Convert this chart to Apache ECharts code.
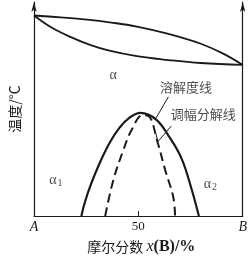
<!DOCTYPE html>
<html><head><meta charset="utf-8">
<script src="https://cdn.jsdelivr.net/npm/echarts@6/dist/echarts.min.js"></script>
<style>html,body{margin:0;padding:0;background:#fff}#c{width:250px;height:260px}</style>
</head><body><div id="c"></div>
<script>
// Composition axis (A = 0, B = 100 mol% B) and temperature (arbitrary 0-100)
const xTickLabels = {0: 'A', 50: '50', 100: 'B'};
const xAxisName = ['摩尔分数 ', 'x', '(B)/%'];
const yAxisName = '温度/°C';

// Upper lens (liquidus / solidus)
const liquidusX = [0, 12.8, 24.2, 37.9, 49.3, 64.4, 79.9, 90.4, 100];
const liquidusY = [93.7, 92.8, 91.9, 90.3, 88.5, 85.1, 80.5, 76.0, 70.6];
const solidusX = [0, 8.2, 17.4, 26.5, 35.6, 49.3, 64.4, 79.9, 100];
const solidusY = [93.7, 88.2, 83.7, 80.1, 77.4, 74.7, 72.9, 71.5, 70.6];

// Miscibility gap: solubility line (solid) and spinodal (dashed)
const solvusX = [22.7, 24.2, 27.3, 31.8, 36.4, 41.0, 45.5, 51.1, 58.4, 64.4, 70.6, 75.2, 79.0];
const solvusY = [0, 5.9, 14.9, 25.5, 34.5, 41.3, 45.8, 48.2, 45.2, 37.6, 27.1, 13.6, 0];
const spinodalX = [34.1, 37.9, 42.5, 47.0, 52.1, 54.8, 59.2, 63.0, 66.7, 67.6];
const spinodalY = [0, 16.4, 30.0, 40.7, 47.1, 46.8, 34.5, 21.0, 9.0, 0];

// Leader lines for the labels
const leader1X = [64.4, 58.4];
const leader1Y = [55.7, 45.7];
const leader2X = [65.8, 59.4, 58.4];
const leader2Y = [42.1, 34.8, 38.5];

// Region / curve labels
const labelTexts = ['α', 'α1', 'α2', '溶解度线', '调幅分解线'];
const labelX = [37.9, 10.5, 84.5, 72.8, 81.1];
const labelY = [65.6, 16.7, 14.9, 60.2, 47.5];

const zip = (xs, ys) => xs.map((x, i) => [x, ys[i]]);
const serif = '"Liberation Serif", "DejaVu Serif", serif';
const cjk = '"Noto Sans CJK SC", sans-serif';
const ink = '#1a1a1a';

const chart = echarts.init(document.getElementById('c'), null, {renderer: 'canvas'});

function labelFormatter(t) {
  if (t === 'α1' || t === 'α2') return '{g|α}{s|' + t.slice(1) + '}';
  if (t === 'α') return '{g|α}';
  return '{c|' + t + '}';
}

chart.setOption({
  animation: false,
  backgroundColor: '#fff',
  grid: {left: 27, right: 4, top: 2, bottom: 37},
  xAxis: {
    type: 'value', min: 0, max: 100, interval: 50,
    splitLine: {show: false},
    axisLine: {lineStyle: {color: ink, width: 1.2}},
    axisTick: {inside: true, length: 5, lineStyle: {color: ink, width: 1}},
    axisLabel: {
      margin: 4,
      formatter: v => (v === 50 ? '{n|' : '{i|') + xTickLabels[v] + '}',
      rich: {
        n: {fontFamily: serif, fontSize: 13, color: ink},
        i: {fontFamily: serif, fontSize: 14, fontStyle: 'italic', color: ink}
      }
    },
    name: '{c|' + xAxisName[0] + '}{i|' + xAxisName[1] + '}{b|' + xAxisName[2] + '}',
    nameLocation: 'middle', nameGap: 21,
    nameTextStyle: {
      padding: [0, 0, 0, 6],
      rich: {
        c: {fontFamily: cjk, fontSize: 14, color: ink},
        i: {fontFamily: serif, fontSize: 16, fontStyle: 'italic', color: ink},
        b: {fontFamily: serif, fontSize: 16, fontWeight: 'bold', color: ink}
      }
    }
  },
  yAxis: [
    {
      type: 'value', min: 0, max: 100,
      splitLine: {show: false}, axisTick: {show: false}, axisLabel: {show: false},
      axisLine: {show: true, symbol: ['none', 'arrow'], symbolSize: [4, 10], lineStyle: {color: ink, width: 1.2}},
      name: yAxisName, nameLocation: 'middle', nameRotate: 90, nameGap: 12,
      nameTextStyle: {fontFamily: cjk, fontSize: 14, color: ink}
    },
    {
      type: 'value', min: 0, max: 100, position: 'right',
      splitLine: {show: false}, axisTick: {show: false}, axisLabel: {show: false},
      axisLine: {show: true, symbol: ['none', 'arrow'], symbolSize: [4, 10], lineStyle: {color: ink, width: 1.2}}
    }
  ],
  series: [
    {type: 'line', data: zip(liquidusX, liquidusY), smooth: 0.4, symbol: 'none', lineStyle: {color: ink, width: 1.8}},
    {type: 'line', data: zip(solidusX, solidusY), smooth: 0.4, symbol: 'none', lineStyle: {color: ink, width: 1.8}},
    {type: 'line', data: zip(solvusX, solvusY), smooth: 0.4, symbol: 'none', lineStyle: {color: ink, width: 2.2}},
    {type: 'line', data: zip(spinodalX, spinodalY), smooth: 0.4, symbol: 'none', lineStyle: {color: ink, width: 2, type: [9, 5]}},
    {type: 'line', data: zip(leader1X, leader1Y), symbol: 'none', lineStyle: {color: ink, width: 1}},
    {type: 'line', data: zip(leader2X, leader2Y), symbol: 'none', lineStyle: {color: ink, width: 1}},
    {
      type: 'scatter', symbolSize: 0, silent: true,
      data: labelTexts.map((t, i) => ({value: [labelX[i], labelY[i]], name: t})),
      label: {
        show: true, position: 'inside',
        formatter: p => labelFormatter(p.name),
        rich: {
          g: {fontFamily: serif, fontSize: 14, color: ink},
          s: {fontFamily: serif, fontSize: 10, color: ink, padding: [7, 0, 0, 1]},
          c: {fontFamily: cjk, fontSize: 13, color: ink}
        }
      }
    }
  ]
});
</script></body></html>
